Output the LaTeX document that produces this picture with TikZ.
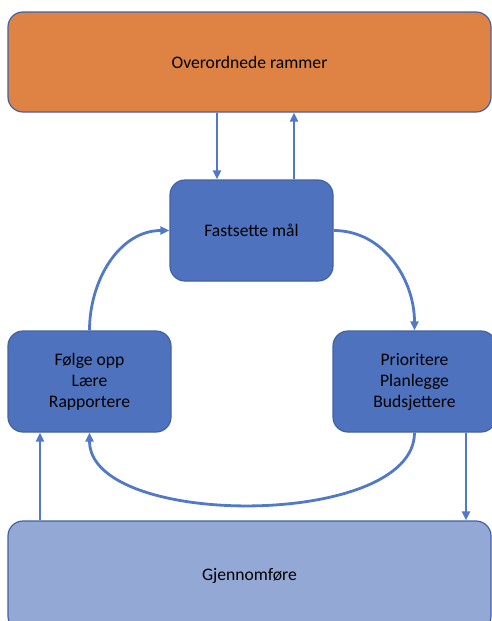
\documentclass[tikz,border=0pt]{standalone}
\usepackage{fontspec}
\setmainfont{Carlito}
\usepackage{tikz}
\usetikzlibrary{arrows.meta}
\definecolor{ramme}{RGB}{222,131,68}
\definecolor{steg}{RGB}{78,114,190}
\definecolor{utfor}{RGB}{148,168,214}
\definecolor{kant}{RGB}{66,98,158}
\definecolor{pilfarge}{RGB}{82,121,199}

\begin{document}
\begin{tikzpicture}[x=1pt,y=-1pt,>={Triangle[length=9pt,width=8pt]},
		boks/.style={draw=kant,line width=1.2pt,rounded corners=15pt,align=center,
			inner sep=0pt,font=\fontsize{17.6}{21}\selectfont},
		liten/.style={boks,fill=steg,minimum width=163pt,minimum height=101pt},
		linje/.style={->,draw=pilfarge,line width=2.8pt}]
			\useasboundingbox (0,0) rectangle (492,621);
			\clip (0,0) rectangle (492,621);
			
			% boksene
			\node[boks,fill=ramme,minimum width=483pt,minimum height=100pt] (rammer) at (249.5,62) {Overordnede rammer};
			\node[liten] (mal) at (251.5,230.5) {Fastsette mål};
			\node[liten] (folge) at (89.5,381.5) {Følge opp\\Lære\\Rapportere};
			\node[liten] (prior) at (414.5,381.5) {Prioritere\\Planlegge\\Budsjettere};
			\node[boks,fill=utfor,minimum width=483pt,minimum height=110pt] (gjennom) at (249.5,576) {Gjennomføre};
			
			\coordinate (ned) at ([xshift=-34.5pt]mal.north);
			\coordinate (opp) at ([xshift=42.5pt]mal.north);
			\coordinate (tilbake) at ([xshift=-49.5pt]folge.south);
			\coordinate (videre) at ([xshift=51.5pt]prior.south);
			
			% piler
			\draw[linje] (rammer.south -| ned) -- (ned);
			\draw[linje] (opp) -- (rammer.south -| opp);
			\draw[linje] (folge.north) to[out=90,in=180] (mal.west);
			\draw[linje] (mal.east) to[out=0,in=90] (prior.north);
			\draw[linje] (prior.south) to[out=-90,in=-90,looseness=0.76] (folge.south);
			\draw[linje] (gjennom.north -| tilbake) -- (tilbake);
			\draw[linje] (videre) -- (gjennom.north -| videre);
		\end{tikzpicture}
\end{document}
